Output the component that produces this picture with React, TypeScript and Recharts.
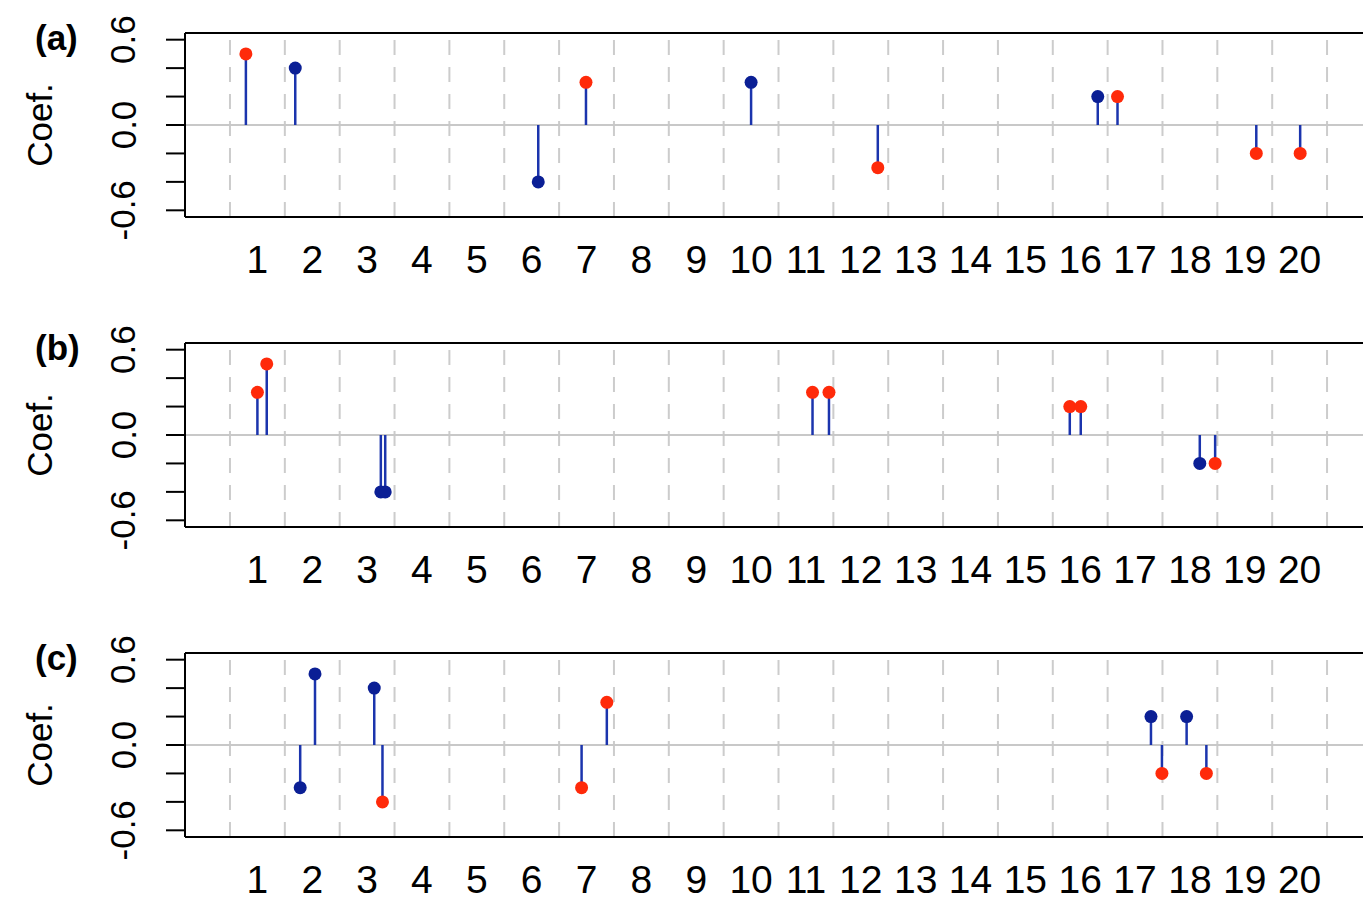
import React from "react";
import { ComposedChart, XAxis, YAxis, Scatter, ReferenceLine } from "recharts";

// x positions (within 1..20 bins), coefficients and dot colour ("r" / "b") per panel
const posA = [0.79, 1.69, 6.12, 6.99, 10.0, 12.31, 16.32, 16.68, 19.21, 20.01];
const coefA = [0.5, 0.4, -0.4, 0.3, 0.3, -0.3, 0.2, 0.2, -0.2, -0.2];
const colA = ["r", "b", "b", "r", "b", "r", "b", "r", "r", "r"];

const posB = [1.0, 1.17, 3.25, 3.33, 11.12, 11.42, 15.81, 16.01, 18.18, 18.46];
const coefB = [0.3, 0.5, -0.4, -0.4, 0.3, 0.3, 0.2, 0.2, -0.2, -0.2];
const colB = ["r", "r", "b", "b", "r", "r", "r", "r", "b", "r"];

const posC = [1.78, 2.05, 3.13, 3.28, 6.91, 7.37, 17.29, 17.49, 17.94, 18.3];
const coefC = [-0.3, 0.5, 0.4, -0.4, -0.3, 0.3, 0.2, -0.2, 0.2, -0.2];
const colC = ["b", "b", "b", "r", "r", "r", "b", "r", "b", "r"];

const panelLabels = ["(a)", "(b)", "(c)"];
const xTicks = [1, 2, 3, 4, 5, 6, 7, 8, 9, 10, 11, 12, 13, 14, 15, 16, 17, 18, 19, 20];
const binEdges = [0.5, 1.5, 2.5, 3.5, 4.5, 5.5, 6.5, 7.5, 8.5, 9.5, 10.5, 11.5, 12.5, 13.5, 14.5, 15.5, 16.5, 17.5, 18.5, 19.5, 20.5];
const yTicks = [-0.6, -0.4, -0.2, 0, 0.2, 0.4, 0.6];
const yLabeled = [-0.6, 0, 0.6];

const X_MIN = -0.32;
const X_MAX = 21.83;
const Y_MIN = -0.647;
const Y_MAX = 0.647;

const FONT = '"Liberation Sans", Arial, sans-serif';
const RED = "#ff2a0a";
const BLUE = "#0b1f95";
const STEM = "#1b34ad";

const XTick = (props: any) => {
  const { x, y, payload } = props;
  return (
    <text x={x} y={y + 56} textAnchor="middle" fontSize={39} fontFamily={FONT} fill="#000">
      {payload.value}
    </text>
  );
};

const YTick = (props: any) => {
  const { x, y, payload } = props;
  const v = payload.value;
  if (!yLabeled.some((l) => Math.abs(l - v) < 1e-6)) return null;
  const bx = x - 30.5;
  return (
    <text
      x={bx}
      y={y}
      transform={`rotate(-90, ${bx}, ${y})`}
      textAnchor="middle"
      fontSize={35}
      fontFamily={FONT}
      fill="#000"
    >
      {v.toFixed(1)}
    </text>
  );
};

const SideLabels = (props: any) => {
  const { viewBox, tag } = props;
  const cy = viewBox.y + viewBox.height / 2;
  return (
    <g>
      <text
        x={52}
        y={cy}
        transform={`rotate(-90, 52, ${cy})`}
        textAnchor="middle"
        fontSize={35}
        fontFamily={FONT}
        fill="#000"
      >
        Coef.
      </text>
      <text x={35} y={50} fontSize={35} fontWeight="bold" fontFamily={FONT} fill="#000">
        {tag}
      </text>
    </g>
  );
};

const dot = (color: string) => (p: any) => <circle cx={p.cx} cy={p.cy} r={6.5} fill={color} />;

function Panel({ pos, coef, col, tag }: { pos: number[]; coef: number[]; col: string[]; tag: string }) {
  const pts = pos.map((x, i) => ({ x, y: coef[i], c: col[i] }));
  const reds = pts.filter((p) => p.c === "r");
  const blues = pts.filter((p) => p.c === "b");
  return (
    <ComposedChart width={1420} height={300} margin={{ top: 33, right: 20, bottom: 23, left: 0 }}>
      <XAxis
        type="number"
        dataKey="x"
        domain={[X_MIN, X_MAX]}
        ticks={xTicks}
        interval={0}
        axisLine={false}
        tickLine={false}
        tickSize={0}
        tickMargin={0}
        height={60}
        tick={<XTick />}
        allowDataOverflow
      />
      <YAxis
        type="number"
        dataKey="y"
        domain={[Y_MIN, Y_MAX]}
        ticks={yTicks}
        interval={0}
        width={185}
        tickSize={19}
        tickMargin={0}
        axisLine={{ stroke: "#000", strokeWidth: 2 }}
        tickLine={{ stroke: "#000", strokeWidth: 2 }}
        tick={<YTick />}
        label={<SideLabels tag={tag} />}
        allowDataOverflow
      />
      {binEdges.map((e) => (
        <ReferenceLine key={`g${e}`} x={e} stroke="#cccccc" strokeWidth={2} strokeDasharray="15 12" />
      ))}
      <ReferenceLine y={0} stroke="#c8c8c8" strokeWidth={2} />
      {pts.map((p, i) => (
        <ReferenceLine
          key={`s${i}`}
          segment={[
            { x: p.x, y: 0 },
            { x: p.x, y: p.y },
          ]}
          stroke={STEM}
          strokeWidth={2.5}
        />
      ))}
      <Scatter data={blues} dataKey="y" isAnimationActive={false} shape={dot(BLUE)} />
      <Scatter data={reds} dataKey="y" isAnimationActive={false} shape={dot(RED)} />
      <ReferenceLine y={Y_MAX} stroke="#000" strokeWidth={2} />
      <ReferenceLine y={Y_MIN} stroke="#000" strokeWidth={2} />
    </ComposedChart>
  );
}

export default function App() {
  const panels = [
    { pos: posA, coef: coefA, col: colA },
    { pos: posB, coef: coefB, col: colB },
    { pos: posC, coef: coefC, col: colC },
  ];
  return (
    <div
      style={{
        position: "fixed",
        left: 0,
        top: 0,
        width: 1363,
        height: 903,
        overflow: "hidden",
        background: "#fff",
      }}
    >
      {panels.map((p, i) => (
        <div key={i} style={{ position: "absolute", left: 0, top: i * 310 }}>
          <Panel pos={p.pos} coef={p.coef} col={p.col} tag={panelLabels[i]} />
        </div>
      ))}
    </div>
  );
}
